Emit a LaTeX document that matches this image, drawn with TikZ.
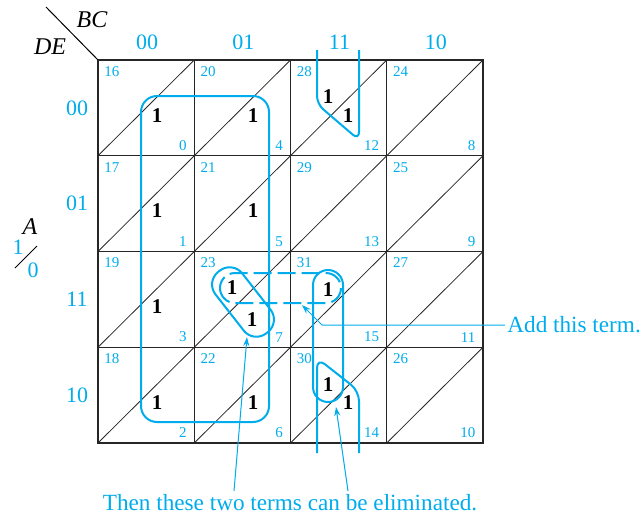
\documentclass[tikz,border=0pt]{standalone}
\usepackage{fontspec}
\setmainfont{Liberation Serif}
\usepackage{tikz}
\usetikzlibrary{arrows.meta}
\definecolor{kblue}{RGB}{0,172,236}

\begin{document}
\begin{tikzpicture}[
    x=0.5pt, y=-0.5pt,
    cellno/.style={text=kblue, font=\fontsize{7.5}{9}\selectfont, inner sep=0pt},
    onebit/.style={font=\fontsize{10.5}{12}\selectfont\bfseries, inner sep=0pt},
    bits/.style={text=kblue, font=\fontsize{11}{13}\selectfont, inner sep=0pt},
    varname/.style={font=\fontsize{12}{14}\selectfont\itshape, inner sep=0pt},
    remark/.style={text=kblue, font=\fontsize{11.6}{14}\selectfont, inner sep=1pt},
    grp/.style={draw=kblue, line width=1pt, rounded corners=7.5pt},
    arr/.style={draw=kblue, line width=0.5pt, -{Stealth[length=4.5pt, width=3pt]}}
]
\useasboundingbox (0,0) rectangle (642,514);

% grid
\draw[line width=1pt, black!85] (98,60) rectangle (483,443);
\foreach \i in {1,2,3} {
    \draw[line width=0.65pt, black!85] (98+96.25*\i,60) -- (98+96.25*\i,443);
    \draw[line width=0.65pt, black!85] (98,60+95.75*\i) -- (483,60+95.75*\i);
}
\foreach \c in {0,...,3}
    \foreach \r in {0,...,3}
        \draw[line width=0.4pt, black!85] (98+96.25*\c,155.75+95.75*\r) -- ++(96.25,-95.75);

% cell numbers
\foreach \c/\bc in {0/0,1/1,2/3,3/2}
    \foreach \r/\de in {0/0,1/1,2/3,3/2} {
        \pgfmathtruncatemacro{\lo}{4*\bc+\de}
        \pgfmathtruncatemacro{\hi}{16+\lo}
        \node[cellno, anchor=north west] (m\hi) at (104+96.25*\c,66+95.75*\r) {\hi};
        \node[cellno, anchor=south east] (m\lo) at (187+96.25*\c,151+95.75*\r) {\lo};
    }

% headings
\coordinate (hdr) at (46,7);
\coordinate (corner) at (98,60);
\draw[line width=0.5pt] (hdr) -- (corner);
\node[varname] (bc) at (92,20) {BC};
\node[varname] (de) at (50,47) {DE};
\foreach \c/\t in {0/00,1/01,2/11,3/10}
    \node[bits] (col\t) at (147+96.25*\c,42) {\t};
\foreach \r/\t in {0/00,1/01,2/11,3/10}
    \node[bits] (row\t) at (77,108+95.75*\r) {\t};
\node[varname] (avar) at (30,227) {A};
\node[bits] (aone) at (18,247) {1};
\node[bits] (azero) at (33,270) {0};
\draw[line width=0.5pt] (15,268) -- (37,246);

% ones
\foreach \n/\x/\y in {0/157/116, 4/253/116, 1/157/211, 5/253/211, 3/157/307,
    23/232/288, 7/252/320, 2/157/403, 6/253/403, 28/328/97, 12/348/116,
    31/328/290, 30/328/385, 14/348/403}
    \node[onebit] (one\n) at (\x,\y) {1};

% groups
\draw[grp, rounded corners=8pt] (141,96) rectangle (269,422);
\draw[grp, rounded corners=4pt] (317,50) -- (317,104) -- (359,140) -- (359,50);
\draw[grp, rounded corners=5pt] (317,453) -- (317,358) -- (359,391) -- (359,453);
\draw[grp] (313,270) rectangle (343,402);
\draw[grp, rounded corners=8pt, rotate around={-52:(243,302)}] (204,285) rectangle (282,319);
\draw[grp, dash pattern=on 9pt off 3pt] (220,273) rectangle (341,303);

% notes
\node[remark, anchor=west] (addterm) at (505,325) {Add this term.};
\coordinate (bendA) at (322,325);
\coordinate (tipA) at (302,305);
\draw[arr] (addterm.west) -- (bendA) -- (tipA);

\node[remark, anchor=base] (elim) at (290,510) {Then these two terms can be eliminated.};
\coordinate (elimA) at (234,491);
\coordinate (elimB) at (348,491);
\coordinate (tipB) at (247,337);
\coordinate (tipC) at (336,407);
\draw[arr] (elimA) -- (tipB);
\draw[arr] (elimB) -- (tipC);
\end{tikzpicture}
\end{document}
